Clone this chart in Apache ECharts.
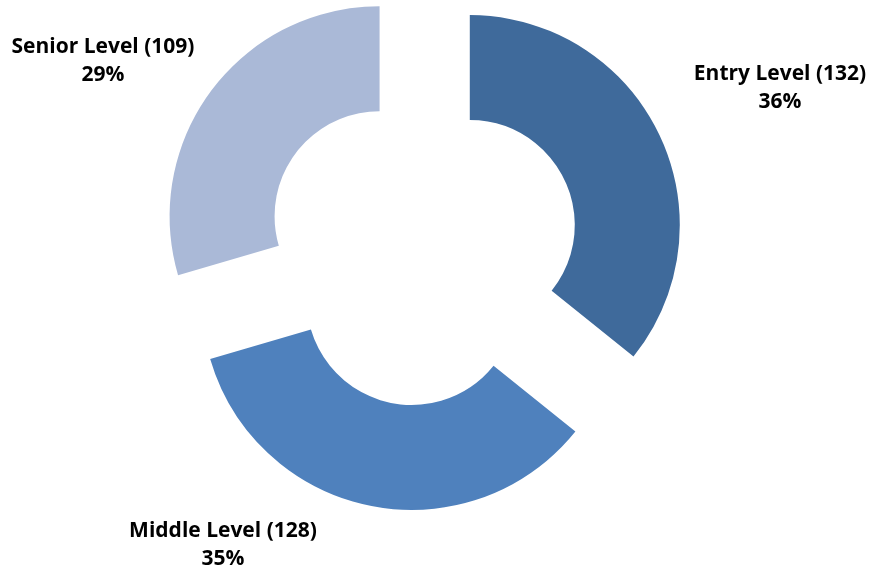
<!DOCTYPE html>
<html>
<head>
<meta charset="utf-8">
<script src="https://cdn.jsdelivr.net/npm/echarts@6/dist/echarts.min.js"></script>
<style>html,body{margin:0;padding:0;background:#fff;}#c{width:871px;height:573px;}</style>
</head>
<body>
<div id="c"></div>
<script>
const categories = ['Entry Level', 'Middle Level', 'Senior Level'];
const values = [132, 128, 109];
const percents = ['36%', '35%', '29%'];
const colors = ['#3F6A9B', '#4F81BD', '#AAB9D7'];

// label block centres (layout only)
const labelAnchors = [[780, 88], [223, 545], [103, 61]];
const explode = 53;

const total = values.reduce((s, v) => s + v, 0);
const sliceShift = values.map((v, i) => {
  const before = values.slice(0, i).reduce((s, x) => s + x, 0);
  const t = (before + v / 2) / total * 2 * Math.PI;
  return [explode * Math.sin(t), -explode * Math.cos(t)];
});

const chart = echarts.init(document.getElementById('c'), null, {renderer: 'canvas'});
chart.setOption({
  animation: false,
  series: [{
    type: 'pie',
    center: [422, 248],
    radius: [105, 210],
    startAngle: 90,
    clockwise: true,
    selectedMode: 'multiple',
    selectedOffset: explode,
    emphasis: {disabled: true},
    label: {
      show: true,
      position: 'outside',
      formatter: function (p) { return '{a|' + p.name + ' (' + p.value + ')}\n{a|' + percents[p.dataIndex] + '}'; },
      rich: {
        a: {
          fontFamily: 'Open Sans',
          fontWeight: 'bold',
          fontSize: 21,
          color: '#000',
          lineHeight: 28,
          width: 230,
          align: 'center'
        }
      }
    },
    labelLine: {show: false, length: 10, length2: 0},
    labelLayout: function (params) {
      const i = params.dataIndex;
      const a = labelAnchors[i];
      const r = params.labelRect;
      return {
        dx: a[0] - (r.x + r.width / 2) - sliceShift[i][0],
        dy: a[1] - (r.y + r.height / 2) - sliceShift[i][1]
      };
    },
    data: categories.map((c, i) => ({
      name: c, value: values[i], selected: true,
      itemStyle: {color: colors[i]}
    }))
  }]
});
</script>
</body>
</html>
